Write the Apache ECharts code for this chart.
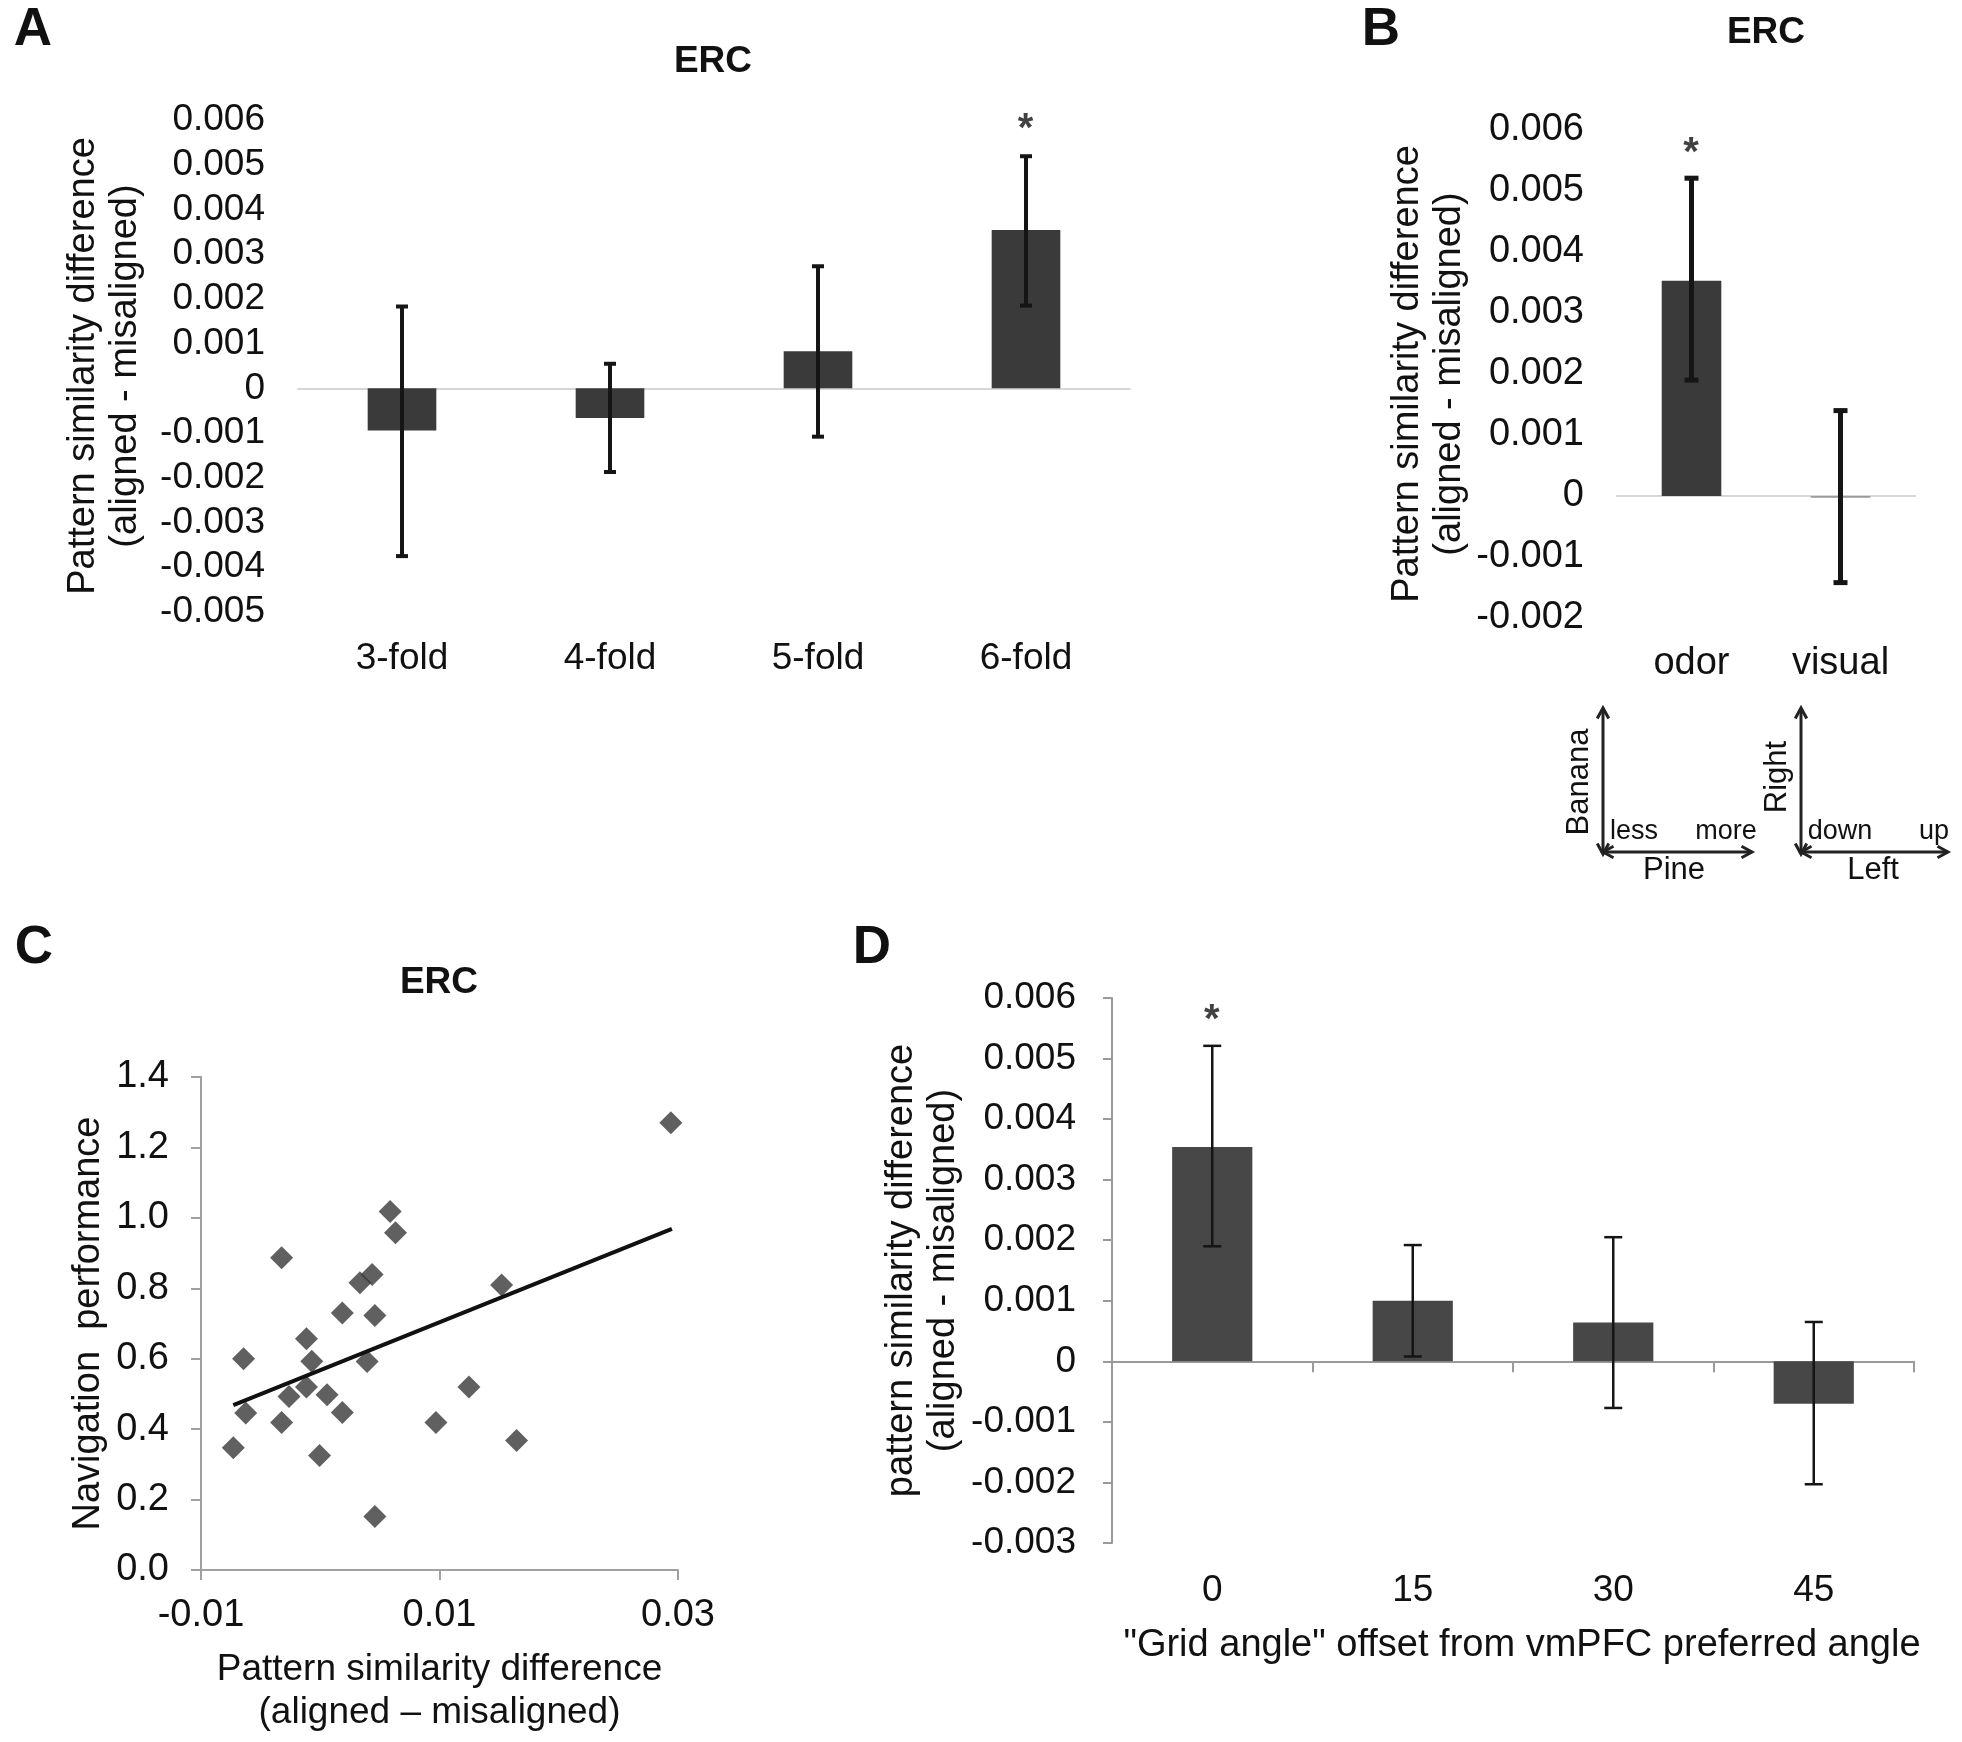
<!DOCTYPE html>
<html><head><meta charset="utf-8">
<script src="https://cdn.jsdelivr.net/npm/echarts@6/dist/echarts.min.js"></script>
<style>html,body{margin:0;padding:0;background:#fff}#c{width:1962px;height:1742px}</style>
</head><body><div id="c"></div>
<script>
// ---------- Panel A : grid periodicity ----------
const foldCats = ['3-fold', '4-fold', '5-fold', '6-fold'];
const foldMeans = [-0.00094, -0.00066, 0.00083, 0.00354];
const foldErrHigh = [0.00183, 0.00055, 0.00273, 0.00519];
const foldErrLow = [-0.00375, -0.00187, -0.00108, 0.00185];
const foldSig = [false, false, false, true];
const foldTicks = { min: -0.005, max: 0.006, step: 0.001 };

// ---------- Panel B : modality ----------
const modCats = ['odor', 'visual'];
const modMeans = [0.00353, -0.00003];
const modErrHigh = [0.00521, 0.00140];
const modErrLow = [0.00190, -0.00142];
const modSig = [true, false];
const modTicks = { min: -0.002, max: 0.006, step: 0.001 };

// ---------- Panel C : behaviour correlation ----------
const perfX = [-0.00729, -0.00643, -0.00625, -0.00324, -0.00324, -0.00262, -0.00116, -0.00116, -0.00071,
  -0.00006, 0.00057, 0.00185, 0.00185, 0.00333, 0.00435, 0.00393, 0.00458, 0.00458, 0.00586, 0.00631,
  0.00970, 0.01247, 0.01521, 0.01646, 0.02940];
const perfY = [0.347, 0.600, 0.446, 0.887, 0.419, 0.493, 0.657, 0.520, 0.593,
  0.325, 0.498, 0.730, 0.447, 0.816, 0.839, 0.592, 0.723, 0.152, 1.018, 0.958,
  0.419, 0.520, 0.809, 0.368, 1.270];
const trendX = [-0.00729, 0.02949];
const trendY = [0.468, 0.969];
const perfXTicks = { min: -0.01, max: 0.03, step: 0.02 };
const perfYTicks = { min: 0, max: 1.4, step: 0.2 };

// ---------- Panel D : grid angle offset ----------
const angleCats = ['0', '15', '30', '45'];
const angleMeans = [0.00354, 0.00100, 0.00064, -0.00070];
const angleErrHigh = [0.00521, 0.00192, 0.00205, 0.00065];
const angleErrLow = [0.00190, 0.00008, -0.00077, -0.00203];
const angleSig = [true, false, false, false];
const angleTicks = { min: -0.003, max: 0.006, step: 0.001 };

// ---------- fonts ----------
function hasFont(name) {
  const c = document.createElement('canvas').getContext('2d');
  c.font = '40px monospace';
  const w1 = c.measureText('0.006 3-fold').width;
  c.font = "40px '" + name + "', monospace";
  const w2 = c.measureText('0.006 3-fold').width;
  return Math.abs(w1 - w2) > 0.5;
}
const NARROW_OK = hasFont('Liberation Sans Narrow');
const NARROW = NARROW_OK ? "'Liberation Sans Narrow'" : "'Liberation Sans'";
const NSZ = NARROW_OK ? 44 : 37;
const SANS = "'Liberation Sans', Arial, sans-serif";
const INK = '#111';

const fmt3 = v => Math.abs(v) < 1e-12 ? '0' : v.toFixed(3);

function errSeries(xi, yi, hi, lo, lw, cap) {
  return {
    type: 'custom', xAxisIndex: xi, yAxisIndex: yi, z: 5,
    data: hi.map((h, i) => [i, h, lo[i]]),
    renderItem: function (params, api) {
      const top = api.coord([api.value(0), api.value(1)]);
      const bot = api.coord([api.value(0), api.value(2)]);
      const st = { stroke: '#151515', lineWidth: lw };
      return { type: 'group', children: [
        { type: 'line', shape: { x1: top[0], y1: top[1], x2: bot[0], y2: bot[1] }, style: st },
        { type: 'line', shape: { x1: top[0] - cap, y1: top[1], x2: top[0] + cap, y2: top[1] }, style: st },
        { type: 'line', shape: { x1: bot[0] - cap, y1: bot[1], x2: bot[0] + cap, y2: bot[1] }, style: st }
      ] };
    }
  };
}
function starSeries(xi, yi, hi, sig, off, size) {
  return {
    type: 'scatter', xAxisIndex: xi, yAxisIndex: yi, symbolSize: 1, z: 6,
    itemStyle: { color: 'rgba(0,0,0,0)' },
    data: hi.map((h, i) => sig[i] ? [i, h] : null).filter(d => d),
    label: { show: true, formatter: '*', position: [0, -off], align: 'center', verticalAlign: 'middle',
      fontFamily: SANS, fontSize: size, fontWeight: 'bold', color: INK }
  };
}
function valueY(gi, t, font, size, margin, name, nameGap, line, tickLen) {
  return {
    type: 'value', gridIndex: gi, min: t.min, max: t.max, interval: t.step,
    axisLine: line ? { show: true, onZero: false, lineStyle: { color: '#9a9a9a', width: 2 } } : { show: false },
    axisTick: line ? { show: true, length: tickLen, lineStyle: { color: '#9a9a9a', width: 2 } } : { show: false },
    splitLine: { show: false },
    axisLabel: { formatter: fmt3, fontFamily: font, fontSize: size, color: INK, margin: margin },
    name: name, nameLocation: 'middle', nameGap: nameGap,
    nameTextStyle: { fontFamily: SANS, fontSize: 38, color: INK, lineHeight: 42 }
  };
}

const option = {
  backgroundColor: '#fff',
  animation: false,
  grid: [
    { left: 298, top: 120, width: 832, height: 492 },
    { left: 1617, top: 130, width: 298, height: 488 },
    { left: 201, top: 1077, width: 477, height: 493 },
    { left: 1112, top: 998, width: 802, height: 545 }
  ],
  xAxis: [
    // A zero line
    { type: 'category', gridIndex: 0, data: foldCats, position: 'bottom',
      axisLine: { show: true, onZero: true, lineStyle: { color: '#d6d6d6', width: 2 } },
      axisTick: { show: false }, axisLabel: { show: false } },
    // A labels
    { type: 'category', gridIndex: 0, data: foldCats, position: 'bottom',
      axisLine: { show: false, onZero: false }, axisTick: { show: false },
      axisLabel: { fontFamily: NARROW, fontSize: NSZ, color: INK, margin: 28 } },
    // B zero line
    { type: 'category', gridIndex: 1, data: modCats, position: 'bottom',
      axisLine: { show: true, onZero: true, lineStyle: { color: '#d6d6d6', width: 2 } },
      axisTick: { show: false }, axisLabel: { show: false } },
    // B labels
    { type: 'category', gridIndex: 1, data: modCats, position: 'bottom',
      axisLine: { show: false, onZero: false }, axisTick: { show: false },
      axisLabel: { fontFamily: SANS, fontSize: 38, color: INK, margin: 27 } },
    // C x
    { type: 'value', gridIndex: 2, min: perfXTicks.min, max: perfXTicks.max, interval: perfXTicks.step,
      axisLine: { show: true, onZero: false, lineStyle: { color: '#a0a0a0', width: 2 } },
      axisTick: { show: true, length: 10, lineStyle: { color: '#a0a0a0', width: 2 } },
      splitLine: { show: false },
      axisLabel: { formatter: v => v.toFixed(2), fontFamily: SANS, fontSize: 38, color: INK, margin: 27 },
      name: 'Pattern similarity difference\n(aligned \u2013 misaligned)', nameLocation: 'middle', nameGap: 78,
      nameTextStyle: { fontFamily: SANS, fontSize: 37, color: INK, lineHeight: 43 } },
    // D zero axis
    { type: 'category', gridIndex: 3, data: angleCats, position: 'bottom',
      axisLine: { show: true, onZero: true, lineStyle: { color: '#9a9a9a', width: 2 } },
      axisTick: { show: true, length: 11, lineStyle: { color: '#9a9a9a', width: 2 } },
      axisLabel: { show: false } },
    // D labels
    { type: 'category', gridIndex: 3, data: angleCats, position: 'bottom',
      axisLine: { show: false, onZero: false }, axisTick: { show: false },
      axisLabel: { fontFamily: NARROW, fontSize: NSZ, color: INK, margin: 29 },
      name: '"Grid angle" offset from vmPFC preferred angle', nameLocation: 'middle', nameGap: 84,
      nameTextStyle: { fontFamily: NARROW, fontSize: NSZ + 1, color: INK, padding: [0, 0, 0, 18] } }
  ],
  yAxis: [
    valueY(0, foldTicks, NARROW, NSZ, 33, 'Pattern similarity difference\n(aligned - misaligned)', 151, false, 0),
    valueY(1, modTicks, SANS, 38, 33, 'Pattern similarity difference\n(aligned - misaligned)', 146, false, 0),
    { type: 'value', gridIndex: 2, min: perfYTicks.min, max: perfYTicks.max, interval: perfYTicks.step,
      axisLine: { show: true, onZero: false, lineStyle: { color: '#a0a0a0', width: 2 } },
      axisTick: { show: true, length: 10, lineStyle: { color: '#a0a0a0', width: 2 } },
      splitLine: { show: false },
      axisLabel: { formatter: v => v.toFixed(1), fontFamily: SANS, fontSize: 38, color: INK, margin: 32 },
      name: 'Navigation  performance', nameLocation: 'middle', nameGap: 93,
      nameTextStyle: { fontFamily: SANS, fontSize: 38, color: INK } },
    valueY(3, angleTicks, NARROW, NSZ, 36, 'pattern similarity difference\n(aligned - misaligned)', 147, true, 9)
  ],
  series: [
    { type: 'bar', xAxisIndex: 0, yAxisIndex: 0, data: foldMeans, barWidth: '33%', itemStyle: { color: '#3a3a3a' } },
    errSeries(0, 0, foldErrHigh, foldErrLow, 4, 6),
    starSeries(0, 0, foldErrHigh, foldSig, 26, 40),
    { type: 'bar', xAxisIndex: 2, yAxisIndex: 1, data: modMeans.map((v, i) => ({ value: v, itemStyle: { color: i === 0 ? '#3a3a3a' : '#9a9a9a' } })), barWidth: '40%' },
    errSeries(2, 1, modErrHigh, modErrLow, 5, 7),
    starSeries(2, 1, modErrHigh, modSig, 24, 40),
    { type: 'scatter', xAxisIndex: 4, yAxisIndex: 2, symbol: 'diamond', symbolSize: 23,
      itemStyle: { color: '#383838' }, data: perfX.map((x, i) => [x, perfY[i]]), z: 3 },
    { type: 'line', xAxisIndex: 4, yAxisIndex: 2, symbol: 'none', z: 4,
      lineStyle: { color: '#111', width: 4 }, data: trendX.map((x, i) => [x, trendY[i]]) },
    { type: 'bar', xAxisIndex: 5, yAxisIndex: 3, data: angleMeans, barWidth: '40%', itemStyle: { color: '#474747' } },
    errSeries(5, 3, angleErrHigh, angleErrLow, 2.5, 9),
    starSeries(5, 3, angleErrHigh, angleSig, 24, 40)
  ],
  graphic: []
};

// panel letters and titles
function txt(x, y, s, size, bold, extra) {
  return Object.assign({ type: 'text', x: x, y: y, style: { text: s, fontFamily: SANS, fontSize: size,
    fontWeight: bold ? 'bold' : 'normal', fill: INK, align: 'center', verticalAlign: 'middle' } }, extra || {});
}
const g = option.graphic;
g.push(txt(33, 30, 'A', 53, true), txt(1381, 30, 'B', 53, true), txt(34, 948, 'C', 53, true), txt(872, 948, 'D', 53, true));
g.push(txt(713, 62, 'ERC', 37, true), txt(1766, 33, 'ERC', 37, true), txt(439, 983, 'ERC', 37, true));

// orientation diagrams under panel B
function arrow(x1, y1, x2, y2) {
  const els = [{ type: 'line', shape: { x1, y1, x2, y2 }, style: { stroke: '#222', lineWidth: 3 } }];
  const t = Math.atan2(y2 - y1, x2 - x1), L = 12, a = 0.5;
  [[x2, y2, t], [x1, y1, t + Math.PI]].forEach(([x, y, th]) => {
    els.push({ type: 'polyline', shape: { points: [[x - L * Math.cos(th - a), y - L * Math.sin(th - a)], [x, y],
      [x - L * Math.cos(th + a), y - L * Math.sin(th + a)]] }, style: { stroke: '#222', lineWidth: 3, fill: null } });
  });
  return els;
}
g.push(...arrow(1603, 708, 1603, 854), ...arrow(1603, 852, 1752, 852));
g.push(...arrow(1801, 708, 1801, 854), ...arrow(1801, 852, 1948, 852));
g.push(txt(1579, 782, 'Banana', 31, false, { rotation: Math.PI / 2 }),
  txt(1634, 832, 'less', 27, false), txt(1726, 832, 'more', 27, false), txt(1674, 870, 'Pine', 31, false),
  txt(1777, 777, 'Right', 31, false, { rotation: Math.PI / 2 }),
  txt(1840, 832, 'down', 27, false), txt(1934, 832, 'up', 27, false), txt(1873, 870, 'Left', 31, false));

const chart = echarts.init(document.getElementById('c'), null, { renderer: 'canvas' });
chart.setOption(option);
</script></body></html>
